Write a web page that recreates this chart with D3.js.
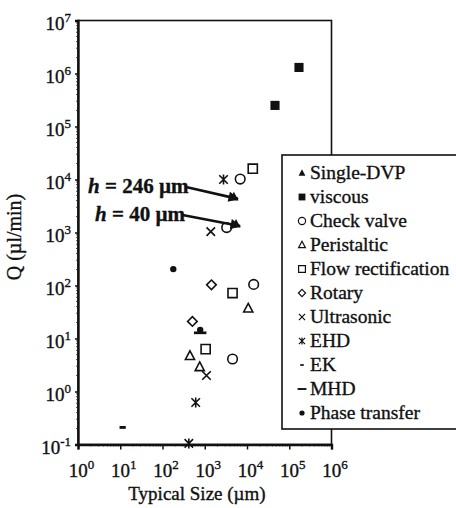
<!DOCTYPE html>
<html>
<head>
<meta charset="utf-8">
<script src="https://cdn.jsdelivr.net/npm/d3@7/dist/d3.min.js"></script>
<style>
  html, body { margin: 0; padding: 0; background: #fff; }
  svg { display: block; }
  svg text { font-family: 'Liberation Serif', 'Times New Roman', 'DejaVu Serif', serif !important; fill: #111; stroke: #111; stroke-width: 0.35px; }
</style>
</head>
<body>
<svg id="chart" width="456" height="508"></svg>
<script>
// Decade exponents used for the tick labels on each axis
const xTickExps = [0, 1, 2, 3, 4, 5, 6];
const yTickExps = [-1, 0, 1, 2, 3, 4, 5, 6, 7];

// Pump families: [typical size in µm, flow rate Q in µl/min]
const singleDVP     = [[4900, 4700], [5500, 1450]];
const viscous       = [[170000, 1.3e6], [46000, 2.5e5]];
const checkValve    = [[6900, 1.02e4], [3300, 1240], [14400, 105], [4550, 4.1]];
const peristaltic   = [[10700, 37], [447, 4.7], [760, 2.9]];
const flowRect      = [[13700, 1.6e4], [4550, 72], [1050, 6.3]];
const rotary        = [[1440, 103], [510, 21]];
const ultrasonic    = [[1390, 1040], [1100, 2.0]];
const ehd           = [[2780, 1.0e4], [610, 0.62], [420, 0.105]];
const ek            = [[11.4, 0.21]];
const mhd           = [[780, 12.8]];
const phaseTransfer = [[180, 204], [780, 14.5]];

const seriesNames = ["Single-DVP", "viscous", "Check valve", "Peristaltic",
  "Flow rectification", "Rotary", "Ultrasonic", "EHD", "EK", "MHD", "Phase transfer"];
const seriesData = [singleDVP, viscous, checkValve, peristaltic, flowRect,
  rotary, ultrasonic, ehd, ek, mhd, phaseTransfer];
const seriesShape = ["triFill", "sqFill", "circle", "tri", "square", "diamond",
  "x", "star", "ek", "mhd", "dot"];

// Device-height annotations pointing at the Single-DVP points
const annotLabels = [" = 246 µm", " = 40 µm"];

const SERIF = "'Liberation Serif', 'Times New Roman', 'DejaVu Serif', serif";
const svg = d3.select("#chart");
const plotL = 78, plotR = 331.5, plotT = 20.5, plotB = 444.5;

const x = d3.scaleLog().domain([1, 1e6]).range([plotL, plotR]);
const y = d3.scaleLog().domain([0.1, 1e7]).range([plotB, plotT]);

// Marker outlines, centred on the origin, s = half size
function markerPath(type, s) {
  const p = d3.path();
  switch (type) {
    case "tri": case "triFill":
      p.moveTo(0, -s * 1.05); p.lineTo(s * 0.95, s * 0.75); p.lineTo(-s * 0.95, s * 0.75); p.closePath(); break;
    case "square": case "sqFill":
      p.rect(-s * 0.95, -s * 0.95, s * 1.9, s * 1.9); break;
    case "circle": case "dot":
      p.arc(0, 0, s, 0, 2 * Math.PI); break;
    case "diamond":
      p.moveTo(0, -s); p.lineTo(s, 0); p.lineTo(0, s); p.lineTo(-s, 0); p.closePath(); break;
    case "x":
      p.moveTo(-s * 0.85, -s * 0.85); p.lineTo(s * 0.85, s * 0.85);
      p.moveTo(-s * 0.85, s * 0.85); p.lineTo(s * 0.85, -s * 0.85); break;
    case "star":
      p.moveTo(-s * 0.85, -s * 0.85); p.lineTo(s * 0.85, s * 0.85);
      p.moveTo(-s * 0.85, s * 0.85); p.lineTo(s * 0.85, -s * 0.85);
      p.moveTo(0, -s); p.lineTo(0, s); break;
    case "ek":
      p.rect(-s * 0.65, -s * 0.3, s * 1.3, s * 0.6); break;
    case "mhd":
      p.rect(-s * 1.3, -s * 0.28, s * 2.6, s * 0.56); break;
  }
  return p.toString();
}
const filled = t => ["triFill", "sqFill", "dot", "ek", "mhd"].includes(t);

// Plot frame: top and right edges
svg.append("rect")
  .attr("x", plotL).attr("y", plotT)
  .attr("width", plotR - plotL).attr("height", plotB - plotT)
  .attr("fill", "none").attr("stroke", "#111").attr("stroke-width", 1.6);

// Minor ticks
const minor = [];
for (let e = 0; e < 6; e++) for (let k = 2; k <= 9; k++) minor.push(k * Math.pow(10, e));
const minorY = [];
for (let e = -1; e < 7; e++) for (let k = 2; k <= 9; k++) minorY.push(k * Math.pow(10, e));
svg.append("g").selectAll("line").data(minor).join("line")
  .attr("x1", d => x(d)).attr("x2", d => x(d))
  .attr("y1", plotB).attr("y2", plotB + 2)
  .attr("stroke", "#555").attr("stroke-width", 1);
svg.append("g").selectAll("line").data(minorY).join("line")
  .attr("y1", d => y(d)).attr("y2", d => y(d))
  .attr("x1", plotL).attr("x2", plotL - 2)
  .attr("stroke", "#555").attr("stroke-width", 1);

// Power-of-ten labels written as 10 with a raised exponent
function powerLabel(sel) {
  sel.each(function(d) {
    const t = d3.select(this);
    const e = Math.round(Math.log10(d));
    t.text(null);
    t.append("tspan").text("10");
    t.append("tspan").attr("dy", -8).attr("font-size", 13).text(e);
  });
}

const xAxis = svg.append("g")
  .attr("transform", `translate(0,${plotB})`)
  .call(d3.axisBottom(x).tickValues(xTickExps.map(e => Math.pow(10, e))).tickSize(5).tickPadding(12));
xAxis.attr("font-family", SERIF);
xAxis.select(".domain").attr("stroke", "#111").attr("stroke-width", 2.4);
xAxis.selectAll(".tick line").attr("stroke", "#111").attr("stroke-width", 1.5);
xAxis.selectAll(".tick text")
  .attr("font-size", 19).attr("fill", "#111")
  .attr("dy", "0.8em").attr("dx", 3)
  .call(powerLabel);

const yAxis = svg.append("g")
  .attr("transform", `translate(${plotL},0)`)
  .call(d3.axisLeft(y).tickValues(yTickExps.map(e => Math.pow(10, e))).tickSize(3).tickPadding(4));
yAxis.attr("font-family", SERIF);
yAxis.select(".domain").attr("stroke", "#111").attr("stroke-width", 2.4);
yAxis.selectAll(".tick line").attr("stroke", "#111").attr("stroke-width", 1.5);
yAxis.selectAll(".tick text")
  .attr("font-size", 19).attr("fill", "#111")
  .attr("dy", 9)
  .call(powerLabel);

// Axis titles
svg.append("text")
  .attr("x", 197).attr("y", 500)
  .attr("text-anchor", "middle").attr("font-size", 19)
  .text("Typical Size (µm)");
svg.append("text")
  .attr("transform", "translate(21,237) rotate(-90)")
  .attr("text-anchor", "middle").attr("font-size", 20)
  .text("Q (µl/min)");

// Data markers
seriesData.forEach((data, i) => {
  const type = seriesShape[i];
  svg.append("g").selectAll("path").data(data).join("path")
    .attr("transform", d => `translate(${x(d[0])},${y(d[1])})`)
    .attr("d", markerPath(type, type === "dot" ? 3.2 : type === "x" || type === "star" ? 5 : 4.8))
    .attr("fill", filled(type) ? "#111" : "#fff")
    .attr("stroke", filled(type) ? "none" : "#111")
    .attr("stroke-width", 1.6);
});

// Annotations with arrows to the Single-DVP points
svg.append("defs").append("marker")
  .attr("id", "head").attr("viewBox", "0 0 10 10")
  .attr("refX", 9).attr("refY", 5)
  .attr("markerWidth", 4.5).attr("markerHeight", 4)
  .attr("orient", "auto").attr("markerUnits", "strokeWidth")
  .append("path").attr("d", "M0,0 L10,5 L0,10 Z").attr("fill", "#111");

const annotPos = [[88, 193], [95, 221]];
annotLabels.forEach((lab, i) => {
  const t = svg.append("text")
    .attr("x", annotPos[i][0]).attr("y", annotPos[i][1])
    .attr("font-size", 21).attr("font-weight", "bold");
  t.append("tspan").attr("font-style", "italic").text("h");
  t.append("tspan").text(lab);
  const bb = t.node().getBBox();
  const p = singleDVP[i];
  svg.append("line")
    .attr("x1", bb.x + bb.width - 3).attr("y1", annotPos[i][1] - 6)
    .attr("x2", x(p[0]) + 4).attr("y2", y(p[1]) + 2)
    .attr("stroke", "#111").attr("stroke-width", 2.6)
    .attr("marker-end", "url(#head)");
});

// Legend
const lg = svg.append("g");
lg.append("rect")
  .attr("x", 282).attr("y", 155).attr("width", 190).attr("height", 274)
  .attr("fill", "#fff").attr("stroke", "#111").attr("stroke-width", 1.6);
const rowY = d3.scalePoint().domain(seriesNames).range([173, 413]);
seriesNames.forEach((name, i) => {
  const type = seriesShape[i];
  const cy = rowY(name);
  const s = type === "dot" ? 2.6 : type === "mhd" ? 3.4 : type === "ek" ? 2.8 : 3.6;
  lg.append("path")
    .attr("transform", `translate(302,${cy})`)
    .attr("d", markerPath(type, s))
    .attr("fill", filled(type) ? "#111" : "#fff")
    .attr("stroke", filled(type) ? "none" : "#111")
    .attr("stroke-width", 1.2);
  lg.append("text")
    .attr("x", 310).attr("y", cy + 6)
    .attr("font-size", 19.5)
    .text(name);
});
</script>
</body>
</html>
